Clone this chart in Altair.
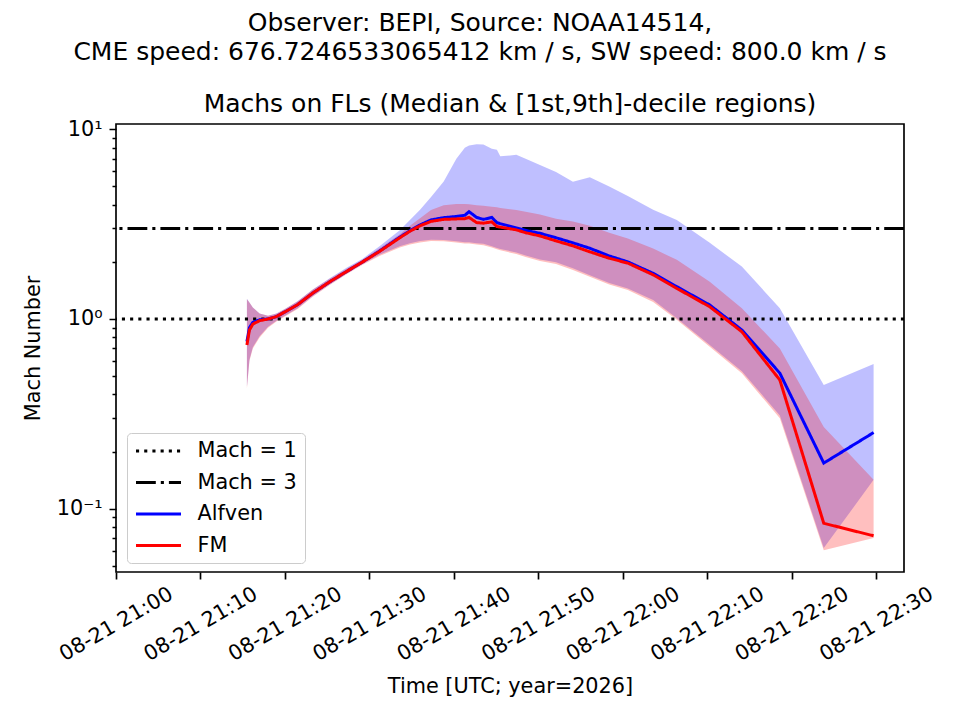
import altair as alt
import pandas as pd

SUPTITLE = "Observer: BEPI, Source: NOAA14514,\nCME speed: 676.7246533065412 km / s, SW speed: 800.0 km / s"
TITLE = "Machs on FLs (Median & [1st,9th]-decile regions)"

# minutes after 2026-08-21 21:00 UTC
minutes = [15.5, 15.8, 16.2, 17.0, 18.0, 19.0, 20.0, 21.5, 23.3, 25.3, 27.3, 29.2, 31.2,
           33.6, 34.8, 36.0, 37.3, 38.8, 40.3, 41.3, 41.8, 42.7, 43.5, 44.5, 45.1, 45.5,
           47.4, 48.5, 50.2, 52.1, 54.1, 56.1, 58.4, 60.6, 63.6, 66.4, 70.3, 74.1, 78.6,
           83.8, 89.7]

alf_med = [0.76, 0.90, 0.96, 0.99, 1.00, 1.03, 1.09, 1.19, 1.37, 1.57, 1.78, 2.00, 2.28,
           2.70, 2.92, 3.13, 3.33, 3.42, 3.47, 3.52, 3.68, 3.43, 3.35, 3.43, 3.22, 3.18,
           3.02, 2.93, 2.83, 2.68, 2.52, 2.36, 2.15, 2.00, 1.74, 1.48, 1.185, 0.875, 0.518,
           0.174, 0.252]
alf_lo = [0.44, 0.61, 0.71, 0.81, 0.91, 0.98, 1.04, 1.14, 1.32, 1.52, 1.73, 1.95, 2.18,
          2.42, 2.51, 2.58, 2.62, 2.61, 2.57, 2.54, 2.54, 2.51, 2.49, 2.42, 2.37, 2.34,
          2.24, 2.16, 2.06, 1.99, 1.85, 1.70, 1.55, 1.45, 1.26, 1.01, 0.73, 0.53, 0.31,
          0.062, 0.142]
alf_hi = [1.28, 1.22, 1.15, 1.07, 1.04, 1.07, 1.13, 1.24, 1.43, 1.64, 1.86, 2.08, 2.42,
          2.94, 3.32, 3.76, 4.4, 5.3, 7.0, 8.0, 8.2, 8.35, 8.3, 7.9, 7.8, 7.2,
          7.33, 7.0, 6.48, 5.95, 5.29, 5.58, 5.0, 4.45, 3.76, 3.32, 2.52, 1.89, 1.14,
          0.449, 0.579]

fm_med = [0.73, 0.875, 0.94, 0.98, 1.00, 1.03, 1.09, 1.19, 1.37, 1.57, 1.78, 2.00, 2.27,
          2.68, 2.90, 3.10, 3.27, 3.35, 3.37, 3.38, 3.43, 3.22, 3.20, 3.25, 3.07, 3.05,
          2.95, 2.85, 2.74, 2.58, 2.43, 2.26, 2.09, 1.97, 1.71, 1.45, 1.16, 0.857, 0.477,
          0.0838, 0.072]
fm_lo = [0.43, 0.60, 0.70, 0.80, 0.90, 0.97, 1.03, 1.13, 1.31, 1.51, 1.72, 1.93, 2.15,
         2.38, 2.47, 2.53, 2.58, 2.57, 2.53, 2.50, 2.50, 2.47, 2.45, 2.38, 2.33, 2.30,
         2.20, 2.12, 2.02, 1.95, 1.81, 1.67, 1.52, 1.42, 1.23, 0.99, 0.715, 0.518, 0.30,
         0.0605, 0.070]
fm_hi = [1.27, 1.22, 1.15, 1.07, 1.04, 1.07, 1.13, 1.24, 1.43, 1.63, 1.84, 2.06, 2.36,
         2.8, 3.1, 3.4, 3.75, 3.98, 4.04, 4.04, 4.02, 3.98, 3.95, 3.9, 3.88, 3.85,
         3.75, 3.68, 3.55, 3.38, 3.26, 3.1, 2.85, 2.66, 2.35, 2.05, 1.57, 1.14, 0.70,
         0.27, 0.142]

ref_names = ["Mach = 1", "Mach = 3"]
ref_values = [1, 3]

series_domain = ["Mach = 1", "Mach = 3", "Alfven", "FM"]
series_colors = ["black", "black", "blue", "red"]
series_dash = [[3.1, 5.1], [19.8, 5, 3.1, 5], [1, 0], [1, 0]]

x_tick_times = [(21, 0), (21, 10), (21, 20), (21, 30), (21, 40), (21, 50),
                (22, 0), (22, 10), (22, 20), (22, 30)]
y_tick_values = [0.05, 0.06, 0.07, 0.08, 0.09, 0.1, 0.2, 0.3, 0.4, 0.5, 0.6, 0.7, 0.8, 0.9,
                 1, 2, 3, 4, 5, 6, 7, 8, 9, 10]

t0 = pd.Timestamp("2026-08-21 21:00:00")
times = [t0 + pd.Timedelta(minutes=m) for m in minutes]

band = pd.DataFrame({"time": times, "alf_lo": alf_lo, "alf_hi": alf_hi,
                     "fm_lo": fm_lo, "fm_hi": fm_hi})
alf_df = pd.DataFrame({"time": times, "value": alf_med, "series": "Alfven"})
fm_df = pd.DataFrame({"time": times, "value": fm_med, "series": "FM"})
refs = pd.DataFrame({"series": ref_names, "value": ref_values})
sup_df = pd.DataFrame({"label": [SUPTITLE]})
title_df = pd.DataFrame({"label": [TITLE]})

FONT = "DejaVu Sans"
FS = 20.8


def dt(h, m, s=0):
    return alt.DateTime(year=2026, month=8, date=21, hours=h, minutes=m, seconds=s)


xscale = alt.Scale(domain=[dt(21, 0), dt(22, 33, 18)], nice=False)
yscale = alt.Scale(type="log", domain=[0.0464, 10.66], nice=False)

xaxis = alt.Axis(
    values=[dt(h, m) for h, m in x_tick_times], format="%m-%d %H:%M",
    labelAngle=330, labelAlign="center", labelBaseline="middle", labelPadding=45,
    tickSize=7, tickWidth=1.67, tickColor="black", labelFontSize=FS, labelFont=FONT,
    labelColor="black", domain=False, grid=False, labelFlush=False, labelOverlap=False,
    title="Time [UTC; year=2026]", titleFont=FONT, titleFontSize=FS, titleFontWeight="normal",
    titleColor="black", titleX=394, titleY=114, titleAlign="center", titleBaseline="middle",
)
yaxis = alt.Axis(
    values=y_tick_values,
    labelExpr="datum.value == 10 ? '10¹' : (datum.value == 1 ? '10⁰' : (datum.value == 0.1 ? '10⁻¹' : ''))",
    tickSize={"condition": {"test": "datum.value == 10 || datum.value == 1 || datum.value == 0.1",
                            "value": 7}, "value": 4},
    tickWidth=1.5, tickColor="black", labelFontSize=FS, labelFont=FONT, labelColor="black",
    labelPadding=7, domain=False, grid=False, labelOverlap=False, labelFlush=False,
    title="Mach Number", titleFont=FONT, titleFontSize=FS, titleFontWeight="normal",
    titleColor="black", titleX=-83, titleY=224, titleAngle=270, titleAlign="center",
    titleBaseline="middle",
)

leg = alt.Legend(
    orient="none", legendX=11, legendY=309, title=None, symbolType="M-1,0H4",
    symbolSize=324, symbolStrokeWidth=3, labelFont=FONT, labelFontSize=FS,
    labelColor="black", labelOffset=42, padding=7.5, rowPadding=9.5,
    fillColor="rgba(255,255,255,0.8)", strokeColor="#cccccc", cornerRadius=4,
)
cscale = alt.Scale(domain=series_domain, range=series_colors)
dscale = alt.Scale(domain=series_domain, range=series_dash)

color_enc = alt.Color("series:N", scale=cscale, legend=leg)
dash_enc = alt.StrokeDash("series:N", scale=dscale, legend=leg)

area_a = alt.Chart(band).mark_area(color="blue", opacity=0.25).encode(
    x=alt.X("time:T", scale=xscale, axis=xaxis),
    y=alt.Y("alf_hi:Q", scale=yscale, axis=yaxis),
    y2="alf_lo:Q",
)
area_f = alt.Chart(band).mark_area(color="red", opacity=0.25).encode(
    x=alt.X("time:T", scale=xscale),
    y=alt.Y("fm_hi:Q", scale=yscale),
    y2="fm_lo:Q",
)
rules = alt.Chart(refs).mark_rule(strokeWidth=3).encode(
    y=alt.Y("value:Q", scale=yscale),
    color=color_enc, strokeDash=dash_enc,
)
line_a = alt.Chart(alf_df).mark_line(strokeWidth=3).encode(
    x=alt.X("time:T", scale=xscale),
    y=alt.Y("value:Q", scale=yscale),
    color=color_enc, strokeDash=dash_enc,
)
line_f = alt.Chart(fm_df).mark_line(strokeWidth=3).encode(
    x=alt.X("time:T", scale=xscale),
    y=alt.Y("value:Q", scale=yscale),
    color=color_enc, strokeDash=dash_enc,
)
sup = alt.Chart(sup_df).mark_text(
    font=FONT, fontSize=25, baseline="alphabetic", align="center",
    lineBreak="\n", lineHeight=29.3, color="black",
).encode(x=alt.value(364), y=alt.value(-93), text="label:N")
ttl = alt.Chart(title_df).mark_text(
    font=FONT, fontSize=25, baseline="alphabetic", align="center", color="black",
).encode(x=alt.value(394), y=alt.value(-12), text="label:N")

chart = alt.layer(area_a, area_f, rules, line_a, line_f, sup, ttl).properties(
    width=788, height=448,
    autosize=alt.AutoSizeParams(type="none"),
    padding={"left": 108, "top": 116, "right": 48, "bottom": 140},
).configure(background="white").configure_view(stroke="black", strokeWidth=1.67)

chart.save("out.html", embed_options={"renderer": "svg", "actions": False})
